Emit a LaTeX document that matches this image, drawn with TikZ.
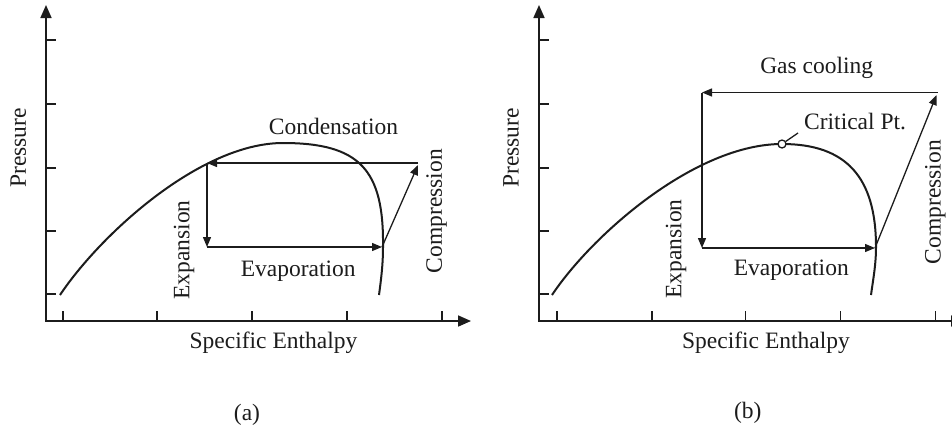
\documentclass[tikz,border=0pt]{standalone}
\usepackage{fontspec}
\setmainfont{Liberation Serif}
\usetikzlibrary{arrows.meta}
\definecolor{ink}{RGB}{28,28,28}
\begin{document}
\begin{tikzpicture}[x=1pt,y=-1pt,
  every node/.style={text=ink,font=\fontsize{23.5}{28}\selectfont,inner sep=0pt},
  axisline/.style={draw=ink,line width=1.7pt,{Triangle[length=13pt,width=11pt]}-{Triangle[length=13pt,width=11pt]}},
  tickline/.style={draw=ink,line width=1.6pt},
  domeline/.style={draw=ink,line width=2pt},
  cycleline/.style={draw=ink,line width=1.3pt,-{Triangle[length=10pt,width=8pt]}},
  rot/.style={rotate=90}]
\useasboundingbox[fill=white] (0,0) rectangle (952,429);

% ---------------- panel (a) ----------------
\coordinate (aY) at (46,5);
\coordinate (aO) at (46,321);
\coordinate (aX) at (471,321);
\draw[axisline] (aY) -- (aO) -- (aX);
\foreach \y in {40,104,168,231,294} \draw[tickline] (46,\y) -- ++(10,0);
\foreach \x in {62.7,157,252,347,442} \draw[tickline] (\x,321) -- ++(0,-10);

\draw[domeline] (60,295) .. controls (100,235) and (200,143) .. (283,143)
  .. controls (360,143) and (384,170) .. (383,247)
  .. controls (383,265) and (381,280) .. (379,295);

\coordinate (A1) at (207,163);
\coordinate (A2) at (207,247);
\coordinate (A3) at (382,247);
\coordinate (A4) at (418,163);
\coordinate (A4t) at (418,165);
\draw[cycleline] (A4) -- (A1);
\draw[cycleline] (A1) -- (A2);
\draw[cycleline] (A2) -- (A3);
\draw[cycleline] (A3) -- (A4t);

\node (aCond) at (333.5,126) {Condensation};
\node (aEvap) at (298.3,271) {Evaporation};
\node[rot] (aExp) at (184,250) {Expansion};
\node[rot] (aComp) at (436.7,211) {Compression};
\node[rot] (aP) at (18.3,148) {Pressure};
\node (aH) at (273.5,343) {Specific Enthalpy};
\node (aLab) at (247,415) {(a)};

% ---------------- panel (b) ----------------
\coordinate (bY) at (539,5);
\coordinate (bO) at (539,321);
\coordinate (bX) at (964,321);
\draw[axisline] (bY) -- (bO) -- (bX);
\foreach \y in {40,104,168,231,294} \draw[tickline] (539,\y) -- ++(10,0);
\foreach \x in {557,651.7,745.3,840.3,935.3} \draw[tickline] (\x,321) -- ++(0,-10);

\draw[domeline] (552,295) .. controls (592,235) and (695,144) .. (782,144)
  .. controls (846,144) and (876,177) .. (876,247)
  .. controls (876,265) and (873,280) .. (871,295);

\coordinate (B1) at (702,92.5);
\coordinate (B2) at (702,248);
\coordinate (B3) at (875,248);
\coordinate (B4) at (937.5,92.5);
\coordinate (B4t) at (936.5,95);
\draw[cycleline] (B4) -- (B1);
\draw[cycleline] (B1) -- (B2);
\draw[cycleline] (B2) -- (B3);
\draw[cycleline] (B3) -- (B4t);

\node[circle,draw=ink,line width=1.3pt,fill=white,minimum size=8pt] (cp) at (782,144) {};
\coordinate (cpl) at (798,133);
\draw[draw=ink,line width=1.3pt] (cp) -- (cpl);
\node[anchor=west] (cpt) at (804,122) {Critical Pt.};

\node (bGas) at (816.7,68) {Gas cooling};
\node (bEvap) at (791.3,270) {Evaporation};
\node[rot] (bExp) at (676,249) {Expansion};
\node[rot] (bComp) at (935.3,202) {Compression};
\node[rot] (bP) at (511,148) {Pressure};
\node (bH) at (766,343) {Specific Enthalpy};
\node (bLab) at (747.7,413) {(b)};
\end{tikzpicture}
\end{document}
